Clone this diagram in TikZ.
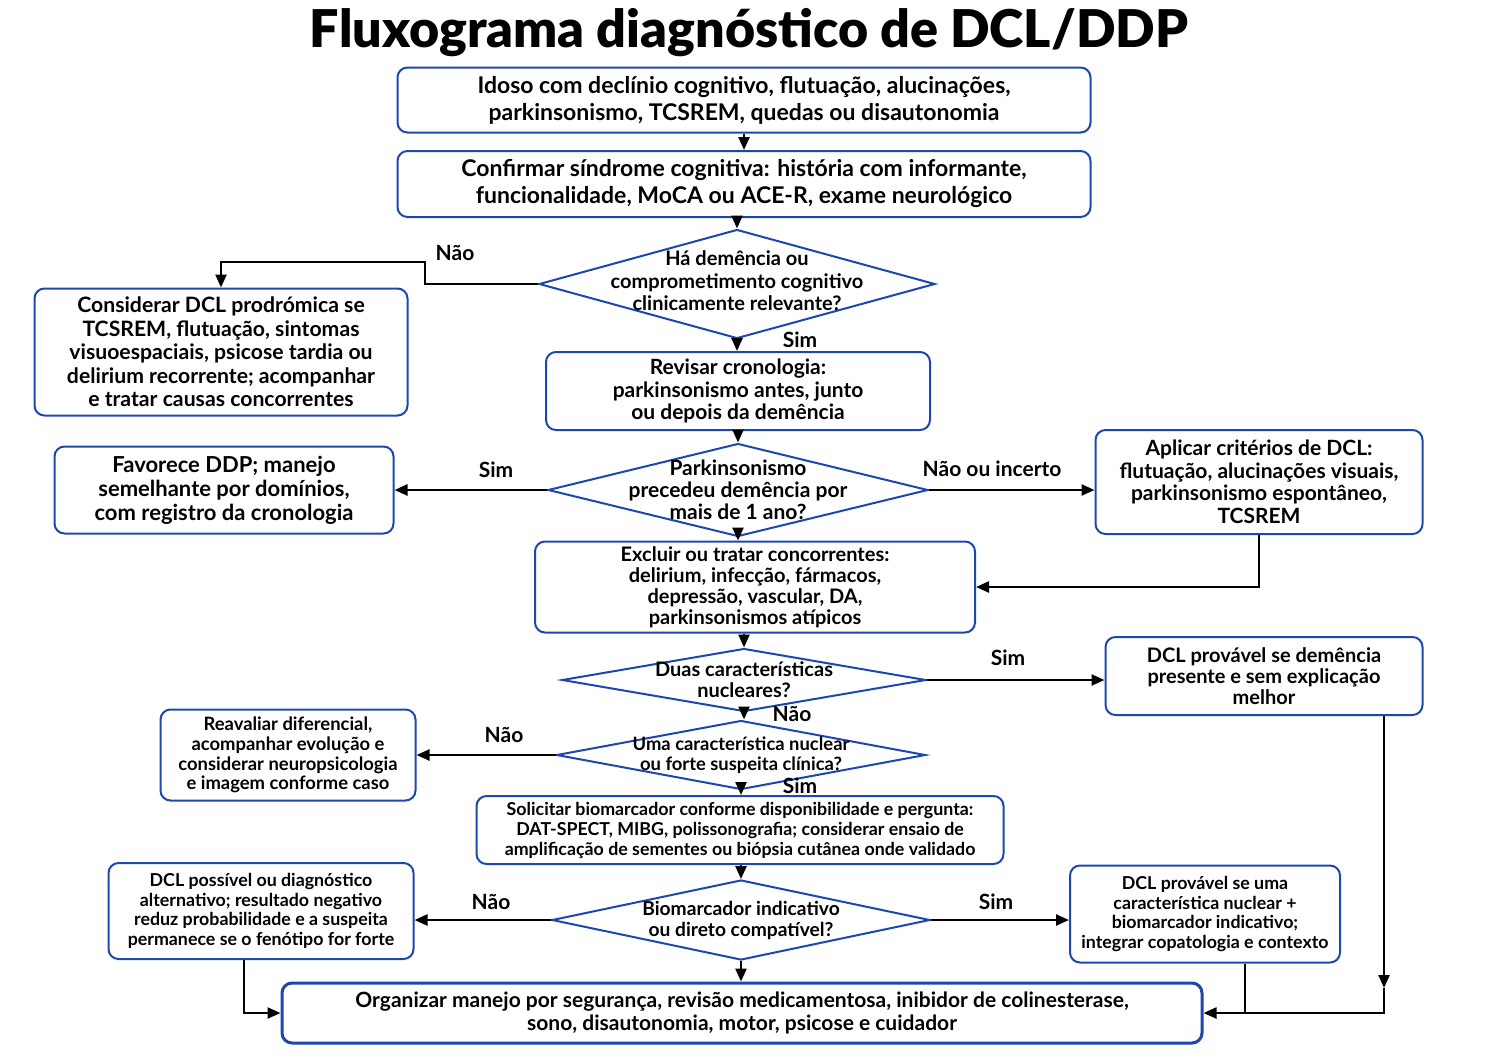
\documentclass[tikz,border=0pt]{standalone}
\usepackage{fontspec}
\setmainfont{Lato}
\IfFontExistsTF{Lato Black}
  {\newfontfamily\headfont{Lato Black}}
  {\newfontfamily\headfont{Lato}[UprightFont=*-Bold]}
\usetikzlibrary{shapes.geometric, arrows.meta}
\definecolor{boxblue}{RGB}{30,70,175}

\begin{document}
\begin{tikzpicture}[x=0.5pt, y=-0.5pt,
    box/.style={draw=boxblue, line width=1pt, rounded corners=5pt, align=center, inner sep=0pt},
    dec/.style={draw=boxblue, line width=1pt, diamond, inner sep=0pt},
    wh/.style 2 args={minimum width=#1*0.5pt, minimum height=#2*0.5pt},
    fs/.style 2 args={font=\fontsize{#1}{#2}\selectfont\bfseries},
    lbl/.style={font=\fontsize{10.5}{12}\selectfont\bfseries},
    arr/.style={-{Triangle[length=6.5pt, width=5.5pt]}, line width=1.2pt}]
    \useasboundingbox (0,0) rectangle (1491,1055);

    % Title
    \node (title) at (749,33) {\headfont\fontsize{26}{30}\selectfont Fluxograma diagnóstico de DCL/DDP};

    % Main column
    \node (start) [box, wh={693}{65}, fs={11.5}{13.5}] at (744,100)
        {Idoso com declínio cognitivo, flutuação, alucinações,\\ parkinsonismo, TCSREM, quedas ou disautonomia};
    \node (confirm) [box, wh={693}{66}, fs={11.5}{13.5}] at (744,184)
        {Confirmar síndrome cognitiva: história com informante,\\ funcionalidade, MoCA ou ACE-R, exame neurológico};
    \node (q1) [dec, wh={396}{109}, label={[fs={10}{11.25}, align=center, yshift=1.5pt]center:{Há demência ou\\ comprometimento cognitivo\\ clinicamente relevante?}}] at (737,284) {};
    \node (chrono) [box, wh={384}{78}, fs={10.5}{11.25}] at (738,391)
        {Revisar cronologia:\\ parkinsonismo antes, junto\\ ou depois da demência};
    \node (q2) [dec, wh={380}{93}, label={[fs={10.5}{11}, align=center]center:{Parkinsonismo\\ precedeu demência por\\ mais de 1 ano?}}] at (738,490) {};
    \node (exclude) [box, wh={440}{91}, fs={10}{10.5}] at (755,587)
        {Excluir ou tratar concorrentes:\\ delirium, infecção, fármacos,\\ depressão, vascular, DA,\\ parkinsonismos atípicos};
    \node (q3) [dec, wh={364}{63}, label={[fs={10}{10.5}, align=center]center:{Duas características\\ nucleares?}}] at (744,680) {};
    \node (q4) [dec, wh={369}{69}, label={[fs={9.2}{10}, align=center]center:{Uma característica nuclear\\ ou forte suspeita clínica?}}] at (741,755) {};
    \node (biomarker) [box, wh={527}{68}, fs={8.9}{10}] at (740,830)
        {Solicitar biomarcador conforme disponibilidade e pergunta:\\ DAT-SPECT, MIBG, polissonografia; considerar ensaio de\\ amplificação de sementes ou biópsia cutânea onde validado};
    \node (q5) [dec, wh={378}{80}, label={[fs={9.6}{10.5}, align=center]center:{Biomarcador indicativo\\ ou direto compatível?}}] at (741,920) {};
    \node (manage) [box, line width=1.5pt, wh={920}{60}, fs={10.5}{11.5}] at (742,1013)
        {Organizar manejo por segurança, revisão medicamentosa, inibidor de colinesterase,\\ sono, disautonomia, motor, psicose e cuidador};

    % Side boxes
    \node (prodromal) [box, wh={373}{127}, fs={10.6}{11.75}] at (221,352)
        {Considerar DCL prodrómica se\\ TCSREM, flutuação, sintomas\\ visuoespaciais, psicose tardia ou\\ delirium recorrente; acompanhar\\ e tratar causas concorrentes};
    \node (ddp) [box, wh={339}{87}, fs={11}{12}] at (224,490)
        {Favorece DDP; manejo\\ semelhante por domínios,\\ com registro da cronologia};
    \node (criteria) [box, wh={327}{104}, fs={10.5}{11.25}] at (1259,482)
        {Aplicar critérios de DCL:\\ flutuação, alucinações visuais,\\ parkinsonismo espontâneo,\\ TCSREM};
    \node (probable) [box, wh={317}{78}, fs={10}{10.5}] at (1264,676)
        {DCL provável se demência\\ presente e sem explicação\\ melhor};
    \node (reassess) [box, wh={255}{91}, fs={9.2}{9.85}] at (288,755)
        {Reavaliar diferencial,\\ acompanhar evolução e\\ considerar neuropsicologia\\ e imagem conforme caso};
    \node (possible) [box, wh={305}{96}, fs={8.9}{9.85}] at (261,911)
        {DCL possível ou diagnóstico\\ alternativo; resultado negativo\\ reduz probabilidade e a suspeita\\ permanece se o fenótipo for forte};
    \node (probable2) [box, wh={270}{97}, fs={8.9}{9.85}] at (1205,914)
        {DCL provável se uma\\ característica nuclear +\\ biomarcador indicativo;\\ integrar copatologia e contexto};

    % Answers
    \node (nao1) [lbl] at (455,253) {Não};
    \node (sim1) [lbl] at (800,340) {Sim};
    \node (sim2) [lbl] at (496,470) {Sim};
    \node (naoinc) [lbl] at (992,469) {Não ou incerto};
    \node (sim3) [lbl] at (1008,658) {Sim};
    \node (nao2) [lbl] at (792,714) {Não};
    \node (nao3) [lbl] at (504,735) {Não};
    \node (sim4) [lbl] at (800,786) {Sim};
    \node (nao4) [lbl] at (491,902) {Não};
    \node (sim5) [lbl] at (996,902) {Sim};

    % Arrows down the main column
    \draw[arr] (start.south) -- (confirm.north);
    \draw[arr] (confirm.south -| q1.north) -- (q1.north);
    \draw[arr] (q1.south) -- (q1.south |- chrono.north);
    \draw[arr] (chrono.south -| q2.north) -- (q2.north);
    \draw[arr] (q2.south) -- (q2.south |- exclude.north);
    \draw[arr] (exclude.south -| q3.north) -- (q3.north);
    \draw[arr] (q3.south) -- (q3.south |- q4.north);
    \draw[arr] (q4.south) -- (q4.south |- biomarker.north);
    \draw[arr] (biomarker.south -| q5.north) -- (q5.north);
    \draw[arr] (q5.south) -- (q5.south |- manage.north);

    % Branches
    \coordinate (bendA) at (425,262);
    \draw[arr] (q1.west) -| (bendA) -| (prodromal.north);
    \draw[arr] (q2.west) -- (q2.west -| ddp.east);
    \draw[arr] (q2.east) -- (q2.east -| criteria.west);
    \draw[arr] (criteria.south) |- (exclude.east);
    \draw[arr] (q3.east) -- (q3.east -| probable.west);
    \draw[arr] (q4.west) -- (q4.west -| reassess.east);
    \draw[arr] (q5.west) -- (q5.west -| possible.east);
    \draw[arr] (q5.east) -- (q5.east -| probable2.west);

    % Into management
    \coordinate (dropL) at (244,1013);
    \draw[arr] (possible.south -| dropL) |- (manage.west);
    \coordinate (dropR) at (1384,988);
    \draw[arr] (probable.south -| dropR) -- (dropR);
    \draw[arr] (dropR) |- (manage.east);
    \coordinate (joinR) at (1245,1013);
    \draw[line width=1.2pt] (probable2.south -| joinR) -- (joinR);
\end{tikzpicture}
\end{document}
